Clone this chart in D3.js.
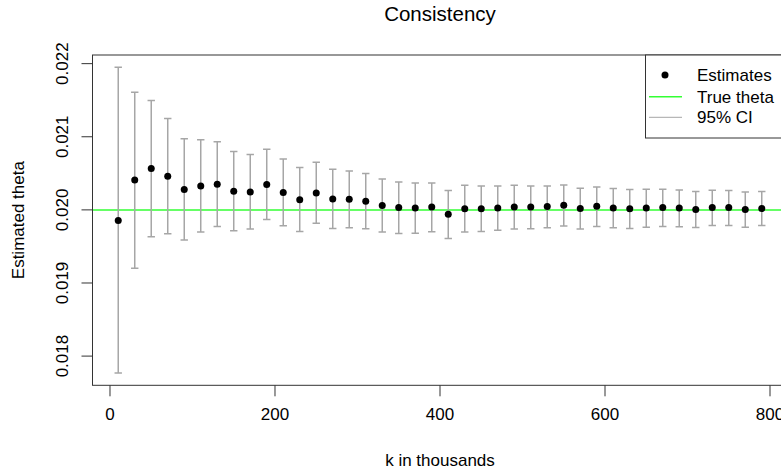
<!DOCTYPE html>
<html>
<head>
<meta charset="utf-8">
<title>Consistency</title>
<script src="https://cdn.jsdelivr.net/npm/d3@7"></script>
<style>
  body { margin: 0; background: #fff; }
  text { font-family: "Liberation Sans", Arial, sans-serif; fill: #000; }
</style>
</head>
<body>
<div id="chart"></div>
<script>
// sample sizes (k in thousands)
let kValues = d3.range(10, 800, 20);

let estimates = [
  0.019855, 0.020409, 0.020565, 0.020460, 0.020278, 0.020327, 0.020351, 0.020255, 0.020246, 0.020346,
  0.020237, 0.020137, 0.020232, 0.020150, 0.020146, 0.020119, 0.020060, 0.020033, 0.020027, 0.020041,
  0.019941, 0.020014, 0.020014, 0.020027, 0.020041, 0.020041, 0.020046, 0.020064, 0.020019, 0.020050,
  0.020027, 0.020014, 0.020027, 0.020033, 0.020027, 0.020005, 0.020033, 0.020033, 0.020005, 0.020019
];

let ciLower = [
  0.017768, 0.019200, 0.019632, 0.019673, 0.019587, 0.019696, 0.019773, 0.019714, 0.019737, 0.019869,
  0.019782, 0.019705, 0.019818, 0.019746, 0.019755, 0.019741, 0.019696, 0.019678, 0.019682, 0.019700,
  0.019610, 0.019696, 0.019705, 0.019723, 0.019737, 0.019741, 0.019755, 0.019778, 0.019737, 0.019773,
  0.019755, 0.019746, 0.019764, 0.019773, 0.019769, 0.019760, 0.019787, 0.019787, 0.019764, 0.019787
];

let ciUpper = [
  0.021951, 0.021610, 0.021497, 0.021251, 0.020974, 0.020960, 0.020933, 0.020797, 0.020756, 0.020828,
  0.020696, 0.020578, 0.020651, 0.020555, 0.020532, 0.020497, 0.020423, 0.020382, 0.020368, 0.020368,
  0.020265, 0.020337, 0.020327, 0.020327, 0.020337, 0.020327, 0.020327, 0.020341, 0.020296, 0.020314,
  0.020292, 0.020278, 0.020282, 0.020282, 0.020273, 0.020251, 0.020269, 0.020264, 0.020246, 0.020251
];

let trueTheta = 0.02;
let xTicks = [0, 200, 400, 600, 800];
let yTicks = [0.018, 0.019, 0.020, 0.021, 0.022];
let legendLabels = ["Estimates", "True theta", "95% CI"];

let data = kValues.map(function(k, i) {
  return {k: k, est: estimates[i], lo: ciLower[i], hi: ciUpper[i]};
});

let width = 781, height = 472;
// plot region (R style, extends past the right edge)
let pLeft = 92.5, pRight = 787.5, pTop = 55, pBottom = 385.3;

let svg = d3.select("#chart").append("svg")
  .attr("width", width)
  .attr("height", height);

// R pads the data range by 4%
function pad(ext) {
  let d = (ext[1] - ext[0]) * 0.04;
  return [ext[0] - d, ext[1] + d];
}

let xScale = d3.scaleLinear()
  .domain(pad(d3.extent(kValues)))
  .range([pLeft, pRight]);

let yScale = d3.scaleLinear()
  .domain(pad([d3.min(ciLower), d3.max(ciUpper)]))
  .range([pBottom, pTop]);

svg.append("clipPath").attr("id", "plotclip")
  .append("rect")
  .attr("x", pLeft).attr("y", pTop)
  .attr("width", pRight - pLeft).attr("height", pBottom - pTop);

let plot = svg.append("g").attr("clip-path", "url(#plotclip)");

// true theta line
plot.append("line")
  .attr("x1", pLeft).attr("x2", pRight)
  .attr("y1", yScale(trueTheta)).attr("y2", yScale(trueTheta))
  .attr("stroke", "#33ff33")
  .attr("stroke-width", 1.5);

// confidence intervals
let ci = plot.append("g")
  .attr("stroke", "#a6a6a6")
  .attr("stroke-width", 1.5);

ci.selectAll(".v").data(data).enter().append("line")
  .attr("x1", d => xScale(d.k)).attr("x2", d => xScale(d.k))
  .attr("y1", d => yScale(d.lo)).attr("y2", d => yScale(d.hi));

ci.selectAll(".top").data(data).enter().append("line")
  .attr("x1", d => xScale(d.k) - 3.7).attr("x2", d => xScale(d.k) + 3.7)
  .attr("y1", d => yScale(d.hi)).attr("y2", d => yScale(d.hi));

ci.selectAll(".bot").data(data).enter().append("line")
  .attr("x1", d => xScale(d.k) - 3.7).attr("x2", d => xScale(d.k) + 3.7)
  .attr("y1", d => yScale(d.lo)).attr("y2", d => yScale(d.lo));

// estimates
plot.selectAll("circle").data(data).enter().append("circle")
  .attr("cx", d => xScale(d.k))
  .attr("cy", d => yScale(d.est))
  .attr("r", 3.5)
  .attr("fill", "#000");

// box
svg.append("rect")
  .attr("x", pLeft).attr("y", pTop)
  .attr("width", pRight - pLeft).attr("height", pBottom - pTop)
  .attr("fill", "none")
  .attr("stroke", "#333")
  .attr("stroke-width", 1);

// x axis
let xAxis = svg.append("g");
xAxis.selectAll("line").data(xTicks).enter().append("line")
  .attr("x1", d => xScale(d)).attr("x2", d => xScale(d))
  .attr("y1", pBottom).attr("y2", pBottom + 11)
  .attr("stroke", "#333");
xAxis.selectAll("text").data(xTicks).enter().append("text")
  .attr("x", d => xScale(d))
  .attr("y", 420)
  .attr("text-anchor", "middle")
  .attr("font-size", "17px")
  .text(d => d);

// y axis
let yAxis = svg.append("g");
yAxis.selectAll("line").data(yTicks).enter().append("line")
  .attr("x1", pLeft - 11).attr("x2", pLeft)
  .attr("y1", d => yScale(d)).attr("y2", d => yScale(d))
  .attr("stroke", "#333");
yAxis.selectAll("text").data(yTicks).enter().append("text")
  .attr("transform", d => "translate(68," + yScale(d) + ") rotate(-90)")
  .attr("text-anchor", "middle")
  .attr("font-size", "17px")
  .text(d => d3.format(".3f")(d));

// titles
svg.append("text")
  .attr("x", 440).attr("y", 21)
  .attr("text-anchor", "middle")
  .attr("font-size", "20.5px")
  .text("Consistency");

svg.append("text")
  .attr("x", 440).attr("y", 466)
  .attr("text-anchor", "middle")
  .attr("font-size", "17px")
  .text("k in thousands");

svg.append("text")
  .attr("transform", "translate(24," + (pTop + pBottom) / 2 + ") rotate(-90)")
  .attr("text-anchor", "middle")
  .attr("font-size", "17px")
  .text("Estimated theta");

// legend
let lg = svg.append("g");
lg.append("rect")
  .attr("x", 645.5).attr("y", pTop)
  .attr("width", 150).attr("height", 83)
  .attr("fill", "#fff")
  .attr("stroke", "#333");

let rowY = [75, 96.7, 117.3];
lg.append("circle")
  .attr("cx", 665).attr("cy", rowY[0]).attr("r", 3.5).attr("fill", "#000");
lg.append("line")
  .attr("x1", 649).attr("x2", 682)
  .attr("y1", rowY[1]).attr("y2", rowY[1])
  .attr("stroke", "#33ff33").attr("stroke-width", 1.5);
lg.append("line")
  .attr("x1", 649).attr("x2", 682)
  .attr("y1", rowY[2]).attr("y2", rowY[2])
  .attr("stroke", "#a6a6a6").attr("stroke-width", 1);

lg.selectAll(".lab").data(legendLabels).enter().append("text")
  .attr("x", 697)
  .attr("y", (d, i) => rowY[i] + 6)
  .attr("font-size", "17px")
  .text(d => d);
</script>
</body>
</html>
